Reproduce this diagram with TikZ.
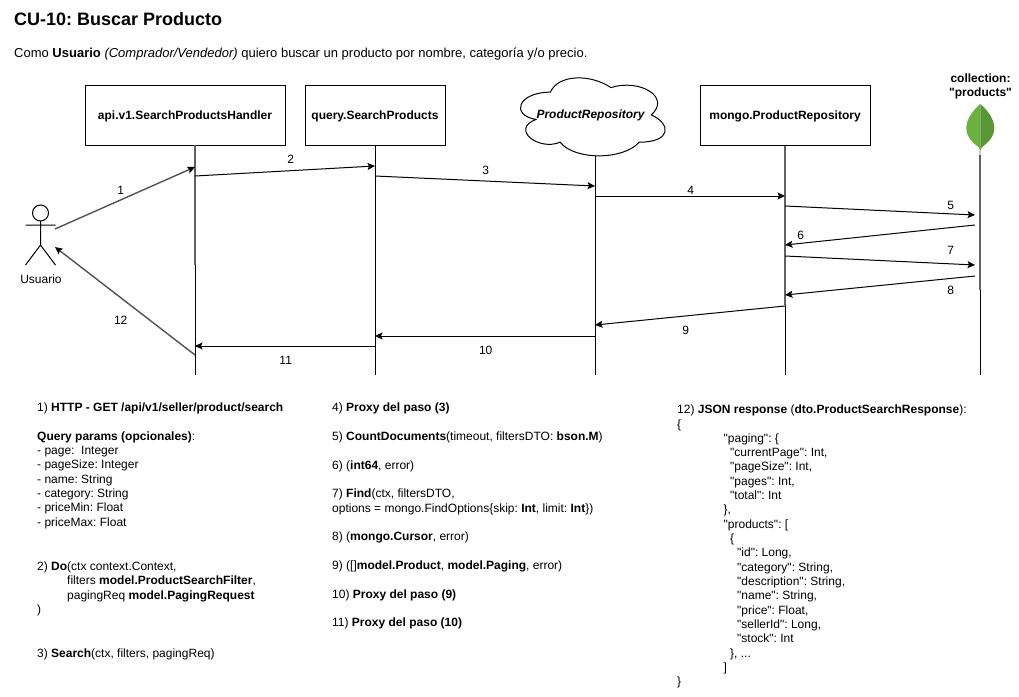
\documentclass[tikz,border=0pt]{standalone}
\usepackage{fontspec}
\setmainfont{Liberation Sans}
\newfontfamily\plainf{Liberation Sans}
\usetikzlibrary{arrows.meta}
\newcommand{\boxlabel}[1]{\raisebox{-4.2pt}[0pt][0pt]{#1}}
\tikzset{
  x=1pt,y=-1pt,
  box/.style={draw=black,fill=white,line width=1pt,minimum height=60pt,inner sep=0pt,font=\plainf\bfseries\fontsize{12}{14}\selectfont},
  lifeline/.style={draw=black,line width=1pt},
  softline/.style={draw=black!62,line width=1.4pt},
  msg/.style={draw=black,line width=1pt,-{Stealth[length=7.5pt,width=7pt,inset=1.5pt]}},
  softmsg/.style={msg,draw=black!68,line width=1.4pt,-{Stealth[black,length=7.5pt,width=7pt,inset=1.5pt]}},
  lbl/.style={inner sep=0pt,font=\plainf\fontsize{12}{14}\selectfont},
  txt/.style={inner sep=0pt,anchor=north west,align=left,font=\plainf\frenchspacing\fontsize{12}{14.32}\selectfont},
  actorline/.style={draw=black,line width=1pt}
}
\definecolor{leafl}{HTML}{6CB040}
\definecolor{leafr}{HTML}{5A9636}
\definecolor{leafs}{HTML}{C8D0C0}
\begin{document}
\begin{tikzpicture}
\useasboundingbox[fill=white] (0,0) rectangle (1019,696);
% headings
\node[inner sep=0pt,anchor=base west,font=\plainf\bfseries\frenchspacing\fontsize{18}{21}\selectfont] (title) at (14,25) {CU-10: Buscar Producto};
\node[inner sep=0pt,anchor=base west,font=\plainf\frenchspacing\fontsize{13}{15}\selectfont] (intro) at (14,57.5) {Como \textbf{Usuario} \textit{(Comprador/Vendedor)} quiero buscar un producto por nombre, categoría y/o precio.};
% participants
\node[box,minimum width=200pt] (handler) at (185,115) {\boxlabel{api.v1.SearchProductsHandler}};
\node[box,minimum width=140pt] (query) at (375,115) {\boxlabel{query.SearchProducts}};
\node[box,minimum width=170pt] (mongo) at (785,115) {\boxlabel{mongo.ProductRepository}};
% cloud
\begin{scope}[shift={(510,69.4)},x=161.5pt,y=-91pt]
\draw[black,line width=1pt,fill=white] (.25,.25) .. controls (.05,.25) and (0,.5) .. (.16,.55)
 .. controls (0,.66) and (.18,.9) .. (.31,.8)
 .. controls (.4,1) and (.7,1) .. (.8,.8)
 .. controls (1,.8) and (1,.6) .. (.875,.5)
 .. controls (1,.3) and (.8,.1) .. (.625,.2)
 .. controls (.5,.05) and (.3,.05) .. (.25,.25) -- cycle;
\end{scope}
\node[inner sep=0pt,font=\plainf\bfseries\itshape\fontsize{12}{14}\selectfont] (repo) at (590.5,115.5) {ProductRepository};
% collection
\node[inner sep=0pt,align=center,font=\plainf\bfseries\fontsize{12}{14.3}\selectfont] (coll) at (980.5,86.3) {collection:\\"products"};
\fill[leafs] (979.4,146) rectangle (981.2,155);
\fill[leafl] (980.3,104) .. controls (972,111) and (966.3,120) .. (966.3,128) .. controls (966.3,137) and (973,143) .. (978.5,147) -- (980.3,150) -- cycle;
\fill[leafr] (980.3,104) .. controls (988.6,111) and (994.3,120) .. (994.3,128) .. controls (994.3,137) and (987.6,143) .. (982.1,147) -- (980.3,150) -- cycle;
% lifelines: the upper stretch of three of them is softer in the reference
\coordinate (lh) at (195,375); \coordinate (lq) at (375,375); \coordinate (lr) at (595,375);
\coordinate (lm) at (785,375); \coordinate (lc) at (980,375);
\coordinate (th) at (195,145); \coordinate (tr) at (595,156); \coordinate (tc) at (980,155);
\coordinate (sh) at (195,265); \coordinate (sm) at (785,305); \coordinate (sc) at (980,290);
\draw[softline] (th) -- (sh);
\draw[lifeline] (sh) -- (lh);
\draw[lifeline] (query.south) -- (lq);
\draw[lifeline] (tr) -- (lr);
\draw[softline] (mongo.south) -- (sm);
\draw[lifeline] (sm) -- (lm);
\draw[softline] (tc) -- (sc);
\draw[lifeline] (sc) -- (lc);
% actor
\coordinate (head) at (40.5,213);
\draw[actorline] (head) circle (8);
\coordinate (neck) at (40.5,221); \coordinate (hip) at (40.5,245);
\coordinate (armL) at (25.5,225); \coordinate (armR) at (55.5,225);
\coordinate (legL) at (25.5,265); \coordinate (legR) at (55.5,265);
\draw[actorline] (neck) -- (hip) (armL) -- (armR) (legL) -- (hip) -- (legR);
\node[lbl] (usuario) at (41,279.2) {Usuario};
% message end points
\coordinate (m1a) at (55,229);  \coordinate (m1b) at (195,167);
\coordinate (m2a) at (195,176); \coordinate (m2b) at (375,166);
\coordinate (m3a) at (375,176); \coordinate (m3b) at (595,186);
\coordinate (m4a) at (595,196); \coordinate (m4b) at (785,196);
\coordinate (m5a) at (785,206); \coordinate (m5b) at (975,215);
\coordinate (m6a) at (975,225); \coordinate (m6b) at (785,245);
\coordinate (m7a) at (785,256); \coordinate (m7b) at (975,265);
\coordinate (m8a) at (975,276); \coordinate (m8b) at (785,295);
\coordinate (m9a) at (785,306); \coordinate (m9b) at (595,325);
\coordinate (m10a) at (595,336); \coordinate (m10b) at (375,336);
\coordinate (m11a) at (375,346); \coordinate (m11b) at (195,346);
\coordinate (m12a) at (195,355); \coordinate (m12b) at (55,247);
\foreach \i in {2,...,11} {\draw[msg] (m\i a) -- (m\i b);}
\draw[softmsg] (m1a) -- (m1b);
\draw[softmsg] (m12a) -- (m12b);
% message labels
\node[lbl] (n1) at (120.7,190.5) {1};
\node[lbl] (n2) at (290.7,159.7) {2};
\node[lbl] (n3) at (485.7,170.7) {3};
\node[lbl] (n4) at (690.7,190.7) {4};
\node[lbl] (n5) at (950.7,205) {5};
\node[lbl] (n6) at (800.7,235) {6};
\node[lbl] (n7) at (950.7,250) {7};
\node[lbl] (n8) at (950.7,290.5) {8};
\node[lbl] (n9) at (685.7,330) {9};
\node[lbl] (n10) at (485.7,350) {10};
\node[lbl] (n11) at (285.7,360) {11};
\node[lbl] (n12) at (120.7,320) {12};
% notes
\node[txt] (notesA) at (37,402.7) {1) \textbf{HTTP - GET /api/v1/seller/product/search}\\
\mbox{}\\
\textbf{Query params (opcionales)}:\\
- page:\ \ Integer\\
- pageSize: Integer\\
- name: String\\
- category: String\\
- priceMin: Float\\
- priceMax: Float\\
\mbox{}\\[1.5pt]
\mbox{}\\
2) \textbf{Do}(ctx context.Context,\\
\hspace*{30pt}filters \textbf{model.ProductSearchFilter},\\
\hspace*{30pt}pagingReq \textbf{model.PagingRequest}\\
)\\
\mbox{}\\[1.2pt]
\mbox{}\\
3) \textbf{Search}(ctx, filters, pagingReq)};
\node[txt] (notesB) at (332,403) {4) \textbf{Proxy del paso (3)}\\
\mbox{}\\
5) \textbf{CountDocuments}(timeout, filtersDTO: \textbf{bson.M})\\
\mbox{}\\
6) (\textbf{int64}, error)\\
\mbox{}\\
7) \textbf{Find}(ctx, filtersDTO,\\
options = mongo.FindOptions\{skip: \textbf{Int}, limit: \textbf{Int}\})\\
\mbox{}\\
8) (\textbf{mongo.Cursor}, error)\\
\mbox{}\\
9) ([]\textbf{model.Product}, \textbf{model.Paging}, error)\\
\mbox{}\\
10) \textbf{Proxy del paso (9)}\\
\mbox{}\\
11) \textbf{Proxy del paso (10)}};
\node[txt] (notesC) at (677,404.8) {12) \textbf{JSON response} (\textbf{dto.ProductSearchResponse}):\\
\{\\
\hspace*{46.5pt}"paging": \{\\
\hspace*{53pt}"currentPage": Int,\\
\hspace*{53pt}"pageSize": Int,\\
\hspace*{53pt}"pages": Int,\\
\hspace*{53pt}"total": Int\\
\hspace*{46.5pt}\},\\
\hspace*{46.5pt}"products": [\\
\hspace*{53pt}\{\\
\hspace*{60pt}"id": Long,\\
\hspace*{60pt}"category": String,\\
\hspace*{60pt}"description": String,\\
\hspace*{60pt}"name": String,\\
\hspace*{60pt}"price": Float,\\
\hspace*{60pt}"sellerId": Long,\\
\hspace*{60pt}"stock": Int\\
\hspace*{53pt}\}, ...\\
\hspace*{46.5pt}]\\
\}};
\end{tikzpicture}
\end{document}
